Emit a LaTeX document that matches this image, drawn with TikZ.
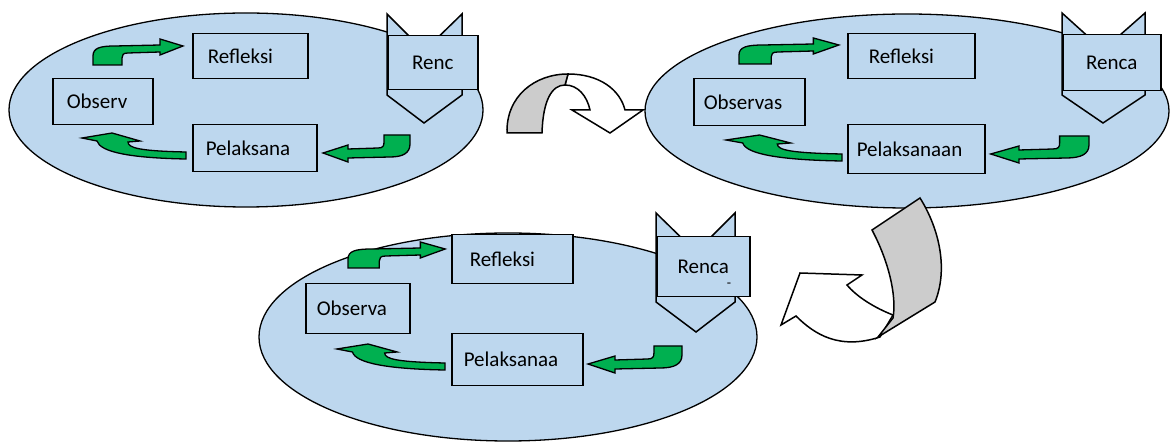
\documentclass[tikz,border=0pt]{standalone}
\usepackage{fontspec}
\setmainfont{Carlito}

\definecolor{paleblue}{RGB}{189,215,238}
\definecolor{arrowgreen}{RGB}{0,176,80}
\definecolor{ribbongray}{RGB}{204,204,204}

\tikzset{
  stage/.style={draw, line width=1.5pt, fill=paleblue, anchor=north west, align=left,
    font=\fontsize{21}{25}\selectfont, inner ysep=0pt},
  plan/.style={draw, line width=1.5pt, fill=paleblue, anchor=north west, align=center,
    font=\fontsize{21}{25}\selectfont, inner sep=0pt},
  greenarrow/.style={draw, line width=1.3pt, fill=arrowgreen},
  ribbon/.style={draw, line width=1.5pt},
  % bent arrows, drawn in pixel units
  upturn/.pic={
    \path[greenarrow] (0,0) -- (0,-9) .. controls (0,-17) and (7,-19) .. (22,-19)
      -- (67,-20) -- (67,-26) -- (90,-19) -- (67,-10) -- (67,-13) -- (35,-12)
      .. controls (30,-12) and (29,-10) .. (29,-7) -- (29,0) -- cycle;
  },
  downturn/.pic={
    \path[greenarrow] (0,0) -- (-26,0) -- (-26,7) .. controls (-26,11) and (-27,13) .. (-32,13)
      -- (-62,14) -- (-62,10) -- (-87,18) -- (-62,27) -- (-62,23) -- (-20,22)
      .. controls (-7,22) and (0,18) .. (0,9) -- cycle;
  },
  backturn/.pic={
    \path[greenarrow] (0,0) -- (0,7) .. controls (-56,6) and (-86,0) .. (-89,-11)
      -- (-104,-14) -- (-74,-19) -- (-46,-11) -- (-58,-10)
      .. controls (-58,-4) and (-46,-1) .. (0,0) -- cycle;
  }
}

\begin{document}
\begin{tikzpicture}[x=1pt,y=-1pt]
  \useasboundingbox (0,0) rectangle (1170,443);

  % the three cycles
  \draw[line width=1.3pt, fill=paleblue] (246,110) ellipse [x radius=237, y radius=97];
  \draw[line width=1.3pt, fill=paleblue] (907,111) ellipse [x radius=262, y radius=97];
  \draw[line width=1.3pt, fill=paleblue] (508,337) ellipse [x radius=249, y radius=104];

  % ribbon arrow from cycle 1 to cycle 2
  \draw[ribbon, fill=white] (568,74) .. controls (600,74) and (620,90) .. (625,110)
    -- (643,110) -- (610,133) -- (572,110) -- (590,110)
    .. controls (587,96) and (578,85) .. (565,85) -- cycle;
  \draw[ribbon, fill=ribbongray] (507,133) .. controls (506,96) and (535,74) .. (568,74)
    -- (565,85) .. controls (552,85) and (543,100) .. (542,133) -- cycle;

  % ribbon arrow from cycle 2 to cycle 3
  \draw[ribbon, fill=white] (893,315) .. controls (875,308) and (857,297) .. (847,285)
    -- (862,275) -- (800,273) -- (781,325) -- (796,316)
    .. controls (815,335) and (840,350) .. (880,337) -- cycle;
  \draw[ribbon, fill=ribbongray] (872,230) -- (920,198)
    .. controls (940,230) and (948,270) .. (935,302) -- (878,337)
    -- (893,318) .. controls (897,295) and (888,260) .. (872,230) -- cycle;

  % cycle 1
  \draw[line width=1.5pt, fill=paleblue] (387,14) -- (424,51) -- (462,14) -- (462,95) -- (424,123) -- (387,95) -- cycle;
  \node[plan, minimum width=90pt, minimum height=54pt] (renc1) at (387,35) {Renc};
  \node[stage, text width=85pt, inner xsep=15pt, minimum height=45pt] (refl1) at (192,33) {Refleksi};
  \node[stage, text width=72pt, inner xsep=14pt, minimum height=46pt] (obs1) at (52,78) {Observ};
  \node[stage, text width=98pt, inner xsep=13pt, minimum height=47pt] (pel1) at (192,124) {Pelaksana};
  \pic at (93,65) {upturn};
  \pic at (410,135) {downturn};
  \pic at (186,152) {backturn};

  % cycle 2
  \draw[line width=1.5pt, fill=paleblue] (1062,13) -- (1103,50) -- (1145,13) -- (1145,95) -- (1103,123) -- (1062,95) -- cycle;
  \node[plan, minimum width=98pt, minimum height=56pt] (renc2) at (1062,34) {Renca};
  \node[stage, text width=85pt, inner xsep=21pt, minimum height=45pt] (refl2) at (847,33) {Refleksi};
  \node[stage, text width=91pt, inner xsep=10pt, minimum height=47pt] (obs2) at (693,78) {Observas};
  \node[stage, text width=119pt, inner xsep=9pt, minimum height=49pt] (pel2) at (847,124) {Pelaksanaan};
  \pic[xscale=1.11] at (739,64) {upturn};
  \pic[xscale=1.13] at (1089,136) {downturn};
  \pic[xscale=1.115] at (842,154) {backturn};

  % cycle 3
  \draw[line width=1.5pt, fill=paleblue] (656,213) -- (696,252) -- (735,213) -- (735,302) -- (696,332) -- (656,302) -- cycle;
  \node[plan, minimum width=93pt, minimum height=60pt] (renc3) at (656,236) {Renca};
  \node[font=\fontsize{14}{14}\selectfont, inner sep=0pt] (dash3) at (729,285) {-};
  \node[stage, text width=85pt, inner xsep=18pt, minimum height=49pt] (refl3) at (451,234) {Refleksi};
  \node[stage, text width=82pt, inner xsep=11pt, minimum height=50pt] (obs3) at (305,283) {Observa};
  \node[stage, text width=107pt, inner xsep=12pt, minimum height=52pt] (pel3) at (451,333) {Pelaksanaa};
  \pic[xscale=1.08] at (348,268) {upturn};
  \pic[xscale=1.08] at (682,346) {downturn};
  \pic[xscale=1.04] at (445,363) {backturn};
\end{tikzpicture}
\end{document}
